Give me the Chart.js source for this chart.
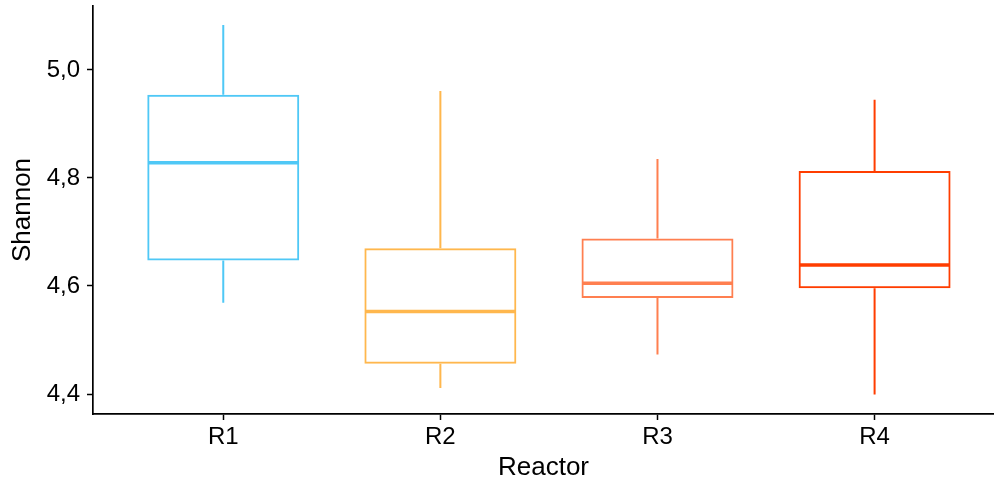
<!DOCTYPE html>
<html>
<head>
<meta charset="utf-8">
<script src="https://cdn.jsdelivr.net/npm/chart.js@4.4.1/dist/chart.umd.min.js"></script>
<style>
  html, body { margin: 0; padding: 0; background: #fff; }
  #wrap { width: 994px; height: 481px; position: relative; }
</style>
</head>
<body>
<div id="wrap"><canvas id="boxChart"></canvas></div>
<script>
const reactors = ["R1", "R2", "R3", "R4"];
const minValues = [4.569, 4.411, 4.473, 4.399];
const q1Values = [4.647, 4.456, 4.578, 4.596];
const medianValues = [4.828, 4.553, 4.605, 4.639];
const q3Values = [4.954, 4.670, 4.688, 4.813];
const maxValues = [5.083, 4.961, 4.835, 4.945];
const yTicks = [4.4, 4.6, 4.8, 5.0];

const colors = ["#4FC8F6", "#FFB74D", "#FF7F50", "#FF3D00"];

Chart.defaults.font.family = "'Liberation Sans', Arial, sans-serif";
Chart.defaults.color = "#000";

// whiskers and median lines, drawn from the scales
const boxExtras = {
  id: "boxExtras",
  afterDatasetsDraw(chart) {
    const { ctx, scales: { x, y } } = chart;
    const bars = chart.getDatasetMeta(0).data;
    ctx.save();
    reactors.forEach((r, i) => {
      const cx = x.getPixelForValue(i + 1);
      ctx.strokeStyle = colors[i];
      ctx.lineWidth = 2;
      ctx.beginPath();
      ctx.moveTo(cx, y.getPixelForValue(q3Values[i]));
      ctx.lineTo(cx, y.getPixelForValue(maxValues[i]));
      ctx.moveTo(cx, y.getPixelForValue(q1Values[i]));
      ctx.lineTo(cx, y.getPixelForValue(minValues[i]));
      ctx.stroke();
      const half = bars[i].width / 2;
      const my = y.getPixelForValue(medianValues[i]);
      ctx.lineWidth = 3.5;
      ctx.beginPath();
      ctx.moveTo(cx - half + 1, my);
      ctx.lineTo(cx + half - 1, my);
      ctx.stroke();
    });
    ctx.restore();
  }
};

const noEdgePadding = scale => {
  scale.paddingTop = 0;
  scale.paddingBottom = 0;
  scale.paddingLeft = 0;
  scale.paddingRight = 0;
};

new Chart(document.getElementById("boxChart"), {
  type: "bar",
  data: {
    datasets: [{
      data: reactors.map((r, i) => ({ x: i + 1, y: [q1Values[i], q3Values[i]] })),
      backgroundColor: "transparent",
      borderColor: colors,
      borderWidth: 2,
      borderSkipped: false,
      categoryPercentage: 1,
      barPercentage: 0.7
    }]
  },
  options: {
    responsive: true,
    maintainAspectRatio: false,
    animation: false,
    layout: { padding: { top: 6, right: 0, bottom: 0, left: 0 } },
    plugins: { legend: { display: false }, tooltip: { enabled: false } },
    scales: {
      x: {
        type: "linear",
        offset: false,
        min: 0.4,
        max: 4.55,
        afterBuildTicks: scale => { scale.ticks = reactors.map((r, i) => ({ value: i + 1 })); },
        afterFit: scale => { scale.height = 67; noEdgePadding(scale); },
        ticks: {
          callback: (v) => reactors[v - 1],
          font: { size: 24 },
          padding: 3,
          maxRotation: 0
        },
        grid: { offset: false, drawOnChartArea: false, color: "#000", tickLength: 6, tickWidth: 1.5 },
        border: { color: "#000", width: 1.7 },
        title: { display: true, text: "Reactor", font: { size: 26, lineHeight: 1 }, padding: { top: 0, bottom: 0 } }
      },
      y: {
        min: 4.363,
        max: 5.1184,
        afterBuildTicks: scale => { scale.ticks = yTicks.map(v => ({ value: v })); },
        afterFit: scale => { scale.width = 93; noEdgePadding(scale); },
        ticks: {
          callback: (v) => v.toFixed(1).replace(".", ","),
          font: { size: 24 },
          padding: 7
        },
        grid: { drawOnChartArea: false, color: "#000", tickLength: 6, tickWidth: 1.5 },
        border: { color: "#000", width: 1.7 },
        title: { display: true, text: "Shannon", font: { size: 26, lineHeight: 1 }, padding: { top: 10, bottom: 0 } }
      }
    }
  },
  plugins: [boxExtras]
});
</script>
</body>
</html>
